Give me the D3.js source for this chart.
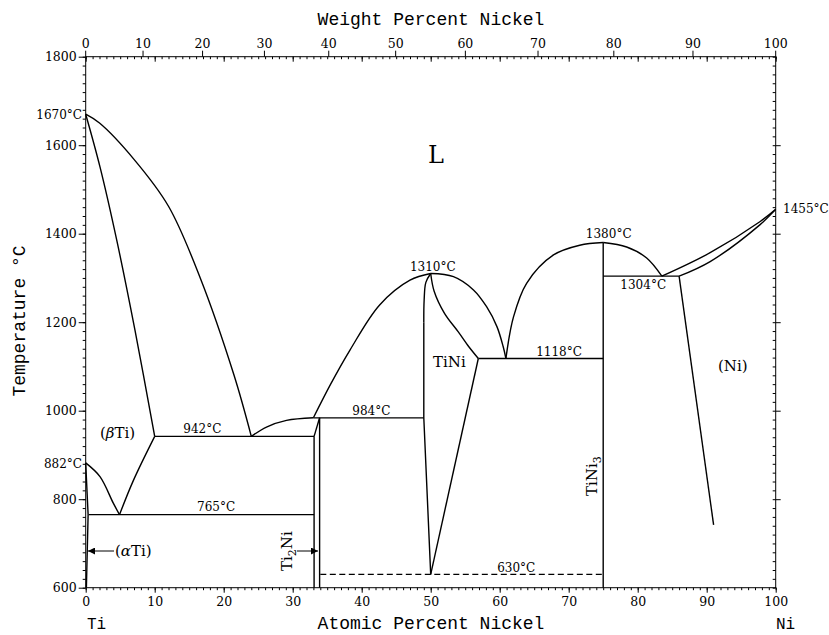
<!DOCTYPE html>
<html>
<head>
<meta charset="utf-8">
<script src="https://cdn.jsdelivr.net/npm/d3@7"></script>
<style>
  html, body { margin: 0; padding: 0; background: #fff; }
  svg { display: block; }
  .curve { fill: none; stroke: #000; stroke-width: 1.4; }
  .iso { stroke: #000; stroke-width: 1.3; }
  .lbl { font-family: "DejaVu Serif", serif; font-size: 12px; fill: #000; }
  .tick-lbl { font-family: "DejaVu Serif", serif; font-size: 12.5px; fill: #000; }
  .title { font-family: "Liberation Mono", "DejaVu Sans Mono", monospace; font-size: 18px; fill: #000; }
  .phase { font-family: "DejaVu Serif", serif; font-size: 15px; fill: #000; }
</style>
</head>
<body>
<svg id="chart" width="829" height="635"></svg>
<script>
// Ti–Ni equilibrium phase diagram (atomic percent nickel vs temperature)

// ---- axis ticks ----
const tempMajor = [600, 800, 1000, 1200, 1400, 1600, 1800];
const tempMinor = d3.range(600, 1801, 20);
const atMajor = [0, 10, 20, 30, 40, 50, 60, 70, 80, 90, 100];
const atMinor = d3.range(0, 101, 1);
const wtMajor = [0, 10, 20, 30, 40, 50, 60, 70, 80, 90, 100];

// ---- phase boundaries: [at.% Ni, °C] ----
const tiLiquidus     = [[0,1670],[2,1650],[7,1568],[12,1462],[16.6,1300],[21.5,1080],[24,942]];
const betaSolidus    = [[0,1670],[2.07,1551],[4.49,1386],[7.14,1182],[10,942]];
const betaTransus    = [[0,882],[2.07,851],[4,791],[4.9,765]];
const betaSolvus     = [[4.9,765],[6.9,842],[10,942]];
const alphaSolvus    = [[0,882],[0.35,765],[0.1,600]];
const eutLiquidus    = [[24,942],[26.2,963],[29.1,978],[33,984]];
const tiNiLiquidusL  = [[33,984],[35.5,1060],[38.3,1137],[42.6,1239],[47,1295],[50,1310]];
const tiNiSolidusTop = [[50,1310],[49.3,1290],[49.05,1250],[49,1200]];
const tiNiSolvusL    = [[49,1200],[49,984],[50,630]];
const tiNiSolidusR   = [[50,1310],[50.5,1270],[52,1220],[54,1178],[55.5,1145],[56.9,1118]];
const tiNiSolvusR    = [[56.9,1118],[50,630]];
const tiNiLiquidusR  = [[50,1310],[53.3,1303],[56.2,1273],[58.1,1235],[59.6,1190],[60.5,1145],[60.9,1118]];
const tiNi3LiquidusL = [[60.9,1118],[62,1212],[63.9,1288],[67.8,1352],[71.6,1374],[75,1380]];
const tiNi3LiquidusR = [[75,1380],[78.4,1370],[81.3,1345],[83.5,1304]];
const niLiquidus     = [[83.5,1304],[90.5,1357],[97.7,1427],[100,1455]];
const niSolidus      = [[86,1304],[90.5,1337],[97.7,1420],[100,1455]];
const niSolvus       = [[86,1304],[91,742]];

// compound lines
const ti2NiLeft  = [[33.1,942],[33.1,600]];
const ti2NiTop   = [[33.1,942],[33.9,984]];
const ti2NiRight = [[33.9,984],[33.9,600]];
const tiNi3Line  = [[75,1380],[75,600]];

// invariant isotherms: temperature, from, to
const isoTemps = [942, 765, 984, 1118, 1304, 630];
const isoFrom  = [10, 0.45, 33, 56.9, 75, 34];
const isoTo    = [33.1, 33.1, 49, 75, 86, 75];
const isoDash  = [false, false, false, false, false, true];

// temperature annotations: text, at.% anchor, °C baseline
const tempLabels = ["942°C", "765°C", "984°C", "1118°C", "1310°C", "1380°C", "1304°C", "630°C"];
const tempLabelX = [16.9, 18.9, 41.4, 68.6, 50.3, 75.8, 80.8, 62.4];
const tempLabelT = [949, 773, 990, 1123, 1316, 1390, 1276, 636];

const svg = d3.select("#chart");
const x = d3.scaleLinear().domain([0, 100]).range([85.7, 775.7]);
const y = d3.scaleLinear().domain([600, 1800]).range([587.7, 56.7]);

// weight % -> atomic % for Ti–Ni
const M_NI = 58.69, M_TI = 47.87;
const wtToAt = w => w >= 100 ? 100 : 100 * (w / M_NI) / (w / M_NI + (100 - w) / M_TI);

// ---- frame and axes ----
const frame = svg.append("g").attr("stroke", "#000").attr("stroke-width", 1).attr("fill", "none");
frame.append("rect").attr("x", x(0)).attr("y", y(1800)).attr("width", x(100) - x(0)).attr("height", y(600) - y(1800));

// left axis: labels + outward ticks
const leftMinor = d3.axisLeft(y).tickValues(tempMinor).tickSize(3).tickFormat("");
const leftMajor = d3.axisLeft(y).tickValues(tempMajor).tickSize(7).tickFormat(d3.format("d")).tickPadding(2);
svg.append("g").attr("transform", `translate(${x(0)},0)`).call(leftMinor).call(g => g.select(".domain").remove());
svg.append("g").attr("transform", `translate(${x(0)},0)`).call(leftMajor)
  .call(g => g.select(".domain").remove())
  .call(g => g.selectAll("text").attr("class", "tick-lbl").attr("font-family", null).attr("font-size", null));

// right axis: inward minor, outward major
svg.append("g").attr("transform", `translate(${x(100)},0)`)
  .call(d3.axisLeft(y).tickValues(tempMinor).tickSize(3).tickFormat(""))
  .call(g => g.select(".domain").remove());
svg.append("g").attr("transform", `translate(${x(100)},0)`)
  .call(d3.axisRight(y).tickValues(tempMajor.slice(1, -1)).tickSize(5).tickFormat(""))
  .call(g => g.select(".domain").remove());

// bottom axis: atomic percent
svg.append("g").attr("transform", `translate(0,${y(600)})`)
  .call(d3.axisBottom(x).tickValues(atMinor).tickSize(2.5).tickFormat(""))
  .call(g => g.select(".domain").remove());
svg.append("g").attr("transform", `translate(0,${y(600)})`)
  .call(d3.axisBottom(x).tickValues(atMajor).tickSize(5).tickFormat(d3.format("d")).tickPadding(4))
  .call(g => g.select(".domain").remove())
  .call(g => g.selectAll("text").attr("class", "tick-lbl").attr("font-family", null).attr("font-size", null));

// top axis: atomic ticks pointing in, weight percent ticks and labels outward
svg.append("g").attr("transform", `translate(0,${y(1800)})`)
  .call(d3.axisBottom(x).tickValues(atMinor).tickSize(2.5).tickFormat(""))
  .call(g => g.select(".domain").remove());
svg.append("g").attr("transform", `translate(0,${y(1800)})`)
  .call(d3.axisBottom(x).tickValues(atMajor).tickSize(5).tickFormat(""))
  .call(g => g.select(".domain").remove());
const wtG = svg.append("g");
wtG.selectAll("line").data(wtMajor).join("line")
  .attr("x1", d => x(wtToAt(d))).attr("x2", d => x(wtToAt(d)))
  .attr("y1", y(1800)).attr("y2", y(1800) - 6)
  .attr("stroke", "#000").attr("stroke-width", 1);
wtG.selectAll("text").data(wtMajor).join("text")
  .attr("class", "tick-lbl")
  .attr("x", d => x(wtToAt(d))).attr("y", y(1800) - 9)
  .attr("text-anchor", "middle").text(d => d);

// axis titles
svg.append("text").attr("class", "title").attr("x", 431).attr("y", 629).attr("text-anchor", "middle").text("Atomic Percent Nickel");
svg.append("text").attr("class", "title").attr("x", 431).attr("y", 25).attr("text-anchor", "middle").text("Weight Percent Nickel");
svg.append("text").attr("class", "title").attr("transform", "translate(25,321) rotate(-90)").attr("text-anchor", "middle").text("Temperature °C");
svg.append("text").attr("class", "title").attr("x", 87).attr("y", 629).style("font-size", "16px").text("Ti");
svg.append("text").attr("class", "title").attr("x", 776).attr("y", 629).style("font-size", "16px").text("Ni");

// ---- phase boundaries ----
const smooth = d3.line().x(d => x(d[0])).y(d => y(d[1])).curve(d3.curveCatmullRom.alpha(0.5));
const straight = d3.line().x(d => x(d[0])).y(d => y(d[1]));
const plot = svg.append("g");

[tiLiquidus, betaSolidus, betaTransus, betaSolvus, eutLiquidus, tiNiLiquidusL, tiNiSolidusTop,
 tiNiSolidusR, tiNiLiquidusR, tiNi3LiquidusL, tiNi3LiquidusR, niLiquidus, niSolidus]
  .forEach(pts => plot.append("path").attr("class", "curve").attr("d", smooth(pts)));

[tiNiSolvusL, tiNiSolvusR, niSolvus, ti2NiTop, tiNi3Line]
  .forEach(pts => plot.append("path").attr("class", "curve").attr("d", straight(pts)));

plot.append("path").attr("class", "curve").attr("stroke-width", 2.2).attr("d", straight(alphaSolvus));
plot.append("path").attr("class", "curve").attr("stroke-width", 1).attr("stroke", "#444").attr("d", straight(ti2NiLeft));
plot.append("path").attr("class", "curve").attr("stroke-width", 2.4).attr("d", straight(ti2NiRight));

// isotherms
isoTemps.forEach((t, i) => {
  plot.append("line").attr("class", "iso")
    .attr("x1", x(isoFrom[i])).attr("x2", x(isoTo[i]))
    .attr("y1", y(t)).attr("y2", y(t))
    .attr("stroke-dasharray", isoDash[i] ? "6,3.5" : null);
});

// temperature annotations
tempLabels.forEach((s, i) => {
  svg.append("text").attr("class", "lbl")
    .attr("x", x(tempLabelX[i])).attr("y", y(tempLabelT[i]))
    .attr("text-anchor", "middle").text(s);
});

// melting / transformation points on the frame
svg.append("text").attr("class", "lbl").attr("x", 82).attr("y", y(1670) + 5).attr("text-anchor", "end").text("1670°C");
svg.append("text").attr("class", "lbl").attr("x", 82).attr("y", y(882) + 5).attr("text-anchor", "end").text("882°C");
svg.append("text").attr("class", "lbl").attr("x", 783).attr("y", y(1455) + 4).attr("text-anchor", "start").text("1455°C");

// ---- phase field labels ----
svg.append("text").attr("class", "phase").attr("x", x(49.6)).attr("y", y(1560)).style("font-size", "24px").text("L");

const beta = svg.append("text").attr("class", "phase").attr("x", 100).attr("y", 438);
beta.append("tspan").text("(");
beta.append("tspan").style("font-style", "italic").text("β");
beta.append("tspan").text("Ti)");

const alpha = svg.append("text").attr("class", "phase").attr("x", 115).attr("y", 556);
alpha.append("tspan").text("(");
alpha.append("tspan").style("font-style", "italic").text("α");
alpha.append("tspan").text("Ti)");

svg.append("text").attr("class", "phase").attr("x", 433).attr("y", 367).text("TiNi");
svg.append("text").attr("class", "phase").attr("x", 718).attr("y", 371).text("(Ni)");

const t2 = svg.append("text").attr("class", "phase").attr("transform", "translate(292,571) rotate(-90)");
t2.append("tspan").text("Ti");
t2.append("tspan").attr("dy", 4).style("font-size", "11px").text("2");
t2.append("tspan").attr("dy", -4).text("Ni");

const t3 = svg.append("text").attr("class", "phase").attr("transform", "translate(597,496) rotate(-90)");
t3.append("tspan").text("TiNi");
t3.append("tspan").attr("dy", 4).style("font-size", "11px").text("3");

// pointer arrows
const defs = svg.append("defs");
defs.append("marker").attr("id", "head").attr("viewBox", "0 0 10 10").attr("refX", 10).attr("refY", 5)
  .attr("markerWidth", 9).attr("markerHeight", 7).attr("markerUnits", "userSpaceOnUse").attr("orient", "auto")
  .append("path").attr("d", "M0,0 L10,5 L0,10 Z").attr("fill", "#000");
svg.append("line").attr("x1", 114).attr("x2", 88).attr("y1", 551).attr("y2", 551)
  .attr("stroke", "#000").attr("stroke-width", 1).attr("marker-end", "url(#head)");
svg.append("line").attr("x1", 297).attr("x2", 318).attr("y1", 551).attr("y2", 551)
  .attr("stroke", "#000").attr("stroke-width", 1).attr("marker-end", "url(#head)");
</script>
</body>
</html>
